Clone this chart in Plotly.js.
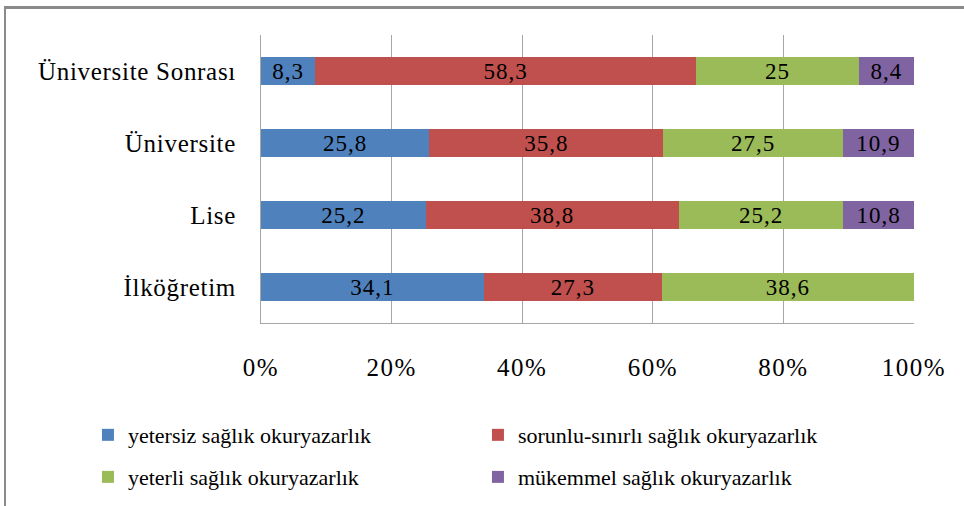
<!DOCTYPE html>
<html>
<head>
<meta charset="utf-8">
<script src="https://cdn.plot.ly/plotly-3.0.1.min.js"></script>
<style>
  html, body { margin: 0; padding: 0; background: #fff; }
  #wrap { position: relative; width: 964px; height: 506px; overflow: hidden; }
  #frame { position: absolute; left: 4px; top: 6px; width: 1000px; height: 600px;
           border-left: 2px solid #8a8a8a; border-top: 3px solid #8a8a8a; box-sizing: border-box; pointer-events: none; z-index: 5; }
  #chart { position: absolute; left: 0; top: 0; width: 964px; height: 506px; }
  #chart .xtick text { letter-spacing: 1.5px; }
  #chart .ytick text { letter-spacing: 0.7px; }
  #chart .bartext { letter-spacing: 1px; }
</style>
</head>
<body>
<div id="wrap">
  <div id="chart"></div>
  <div id="frame"></div>
</div>
<script>
// Categories (bottom to top as Plotly draws them)
const categories = ["İlköğretim", "Lise", "Üniversite", "Üniversite Sonrası"];

const seriesNames = [
  "yetersiz sağlık okuryazarlık",
  "sorunlu-sınırlı sağlık okuryazarlık",
  "yeterli sağlık okuryazarlık",
  "mükemmel sağlık okuryazarlık"
];

const yetersiz = [34.1, 25.2, 25.8, 8.3];
const sorunlu  = [27.3, 38.8, 35.8, 58.3];
const yeterli  = [38.6, 25.2, 27.5, 25];
const mukemmel = [0, 10.8, 10.9, 8.4];

const colors = ["#4F81BD", "#C0504D", "#9BBB59", "#8064A2"];
const xTickVals = [0, 20, 40, 60, 80, 100];
const xTickText = ["0%", "20%", "40%", "60%", "80%", "100%"];

const FONT = "Liberation Serif";

function fmt(v) { return v === 0 ? "" : String(v).replace(".", ","); }

const allSeries = [yetersiz, sorunlu, yeterli, mukemmel];
const legendIds = ["legend", "legend", "legend2", "legend2"];

const traces = allSeries.map((vals, i) => ({
  type: "bar",
  orientation: "h",
  name: seriesNames[i],
  y: categories,
  x: vals,
  text: vals.map(fmt),
  textposition: "inside",
  insidetextanchor: "middle",
  constraintext: "none",
  textangle: 0,
  textfont: { family: FONT, size: 23, color: "#000" },
  marker: { color: colors[i], line: { width: 0 } },
  legend: legendIds[i],
  hoverinfo: "skip"
}));

const legendCommon = {
  orientation: "h",
  xanchor: "left",
  yanchor: "middle",
  font: { family: FONT, size: 22, color: "#000" },
  itemwidth: 30,
  entrywidth: 345,
  entrywidthmode: "pixels",
  bgcolor: "rgba(0,0,0,0)",
  traceorder: "normal"
};

const layout = {
  width: 964,
  height: 506,
  margin: { l: 261, r: 50, t: 35, b: 183, autoexpand: false },
  paper_bgcolor: "#fff",
  plot_bgcolor: "#fff",
  barmode: "stack",
  bargap: 0.61,
  showlegend: true,
  font: { family: FONT, color: "#000" },
  xaxis: {
    range: [0, 100],
    tickvals: xTickVals,
    ticktext: xTickText,
    showgrid: true,
    gridcolor: "#a6a6a6",
    gridwidth: 1,
    zeroline: false,
    showline: true,
    linecolor: "#a6a6a6",
    linewidth: 1,
    ticks: "",
    ticklabelstandoff: 22,
    tickfont: { family: FONT, size: 25, color: "#000" },
    fixedrange: true
  },
  yaxis: {
    type: "category",
    categoryorder: "array",
    categoryarray: categories,
    showgrid: false,
    zeroline: false,
    showline: true,
    linecolor: "#a6a6a6",
    linewidth: 1,
    ticks: "",
    ticklabelstandoff: 19,
    tickfont: { family: FONT, size: 25, color: "#000" },
    fixedrange: true
  },
  legend: Object.assign({}, legendCommon, { x: -0.265, y: -0.389 }),
  legend2: Object.assign({}, legendCommon, { x: -0.265, y: -0.535 })
};

Plotly.newPlot("chart", traces, layout, { displayModeBar: false, staticPlot: true });
</script>
</body>
</html>
